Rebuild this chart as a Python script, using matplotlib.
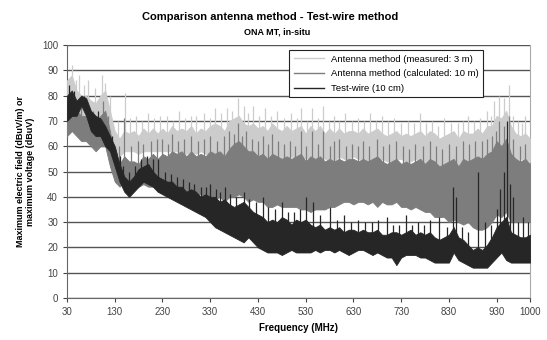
import numpy as np
import matplotlib.pyplot as plt

plt.rcParams["font.family"] = ["Liberation Sans", "DejaVu Sans"]

# frequency grid (MHz): dense part of each trace, read every 10 MHz
freq = np.arange(30, 1001, 10)

# Antenna method (measured: 3 m): top / bottom of dense band, plus spikes
meas_hi = [86, 88, 82, 80, 80, 78, 77, 80, 82, 74,
           66, 63, 66, 65, 66, 64, 67, 65, 67, 65,
           67, 65, 68, 66, 67, 66, 68, 65, 67, 66,
           68, 69, 68, 66, 70, 71, 72, 69, 68, 69,
           67, 68, 66, 69, 67, 66, 68, 66, 67, 68,
           65, 68, 66, 68, 65, 67, 65, 67, 65, 66,
           66, 65, 67, 65, 66, 67, 65, 64, 65, 66,
           64, 65, 64, 65, 66, 64, 66, 65, 63, 64,
           65, 66, 63, 66, 65, 65, 67, 65, 68, 68,
           72, 71, 74, 68, 65, 64, 65, 63]
meas_lo = [72, 75, 72, 70, 70, 68, 68, 70, 72, 62,
           58, 56, 58, 58, 58, 57, 58, 58, 58, 58,
           58, 58, 58, 58, 57, 57, 58, 57, 58, 57,
           57, 56, 57, 55, 56, 56, 57, 56, 55, 56,
           55, 56, 55, 54, 55, 54, 55, 56, 55, 56,
           55, 56, 55, 56, 55, 55, 54, 56, 55, 55,
           56, 55, 55, 54, 55, 54, 55, 54, 54, 55,
           55, 54, 54, 55, 54, 53, 54, 53, 50, 52,
           52, 52, 50, 52, 53, 52, 54, 53, 55, 56,
           58, 57, 58, 56, 55, 55, 55, 54]
meas_spike_f = [40, 48, 55, 66, 75, 88, 103, 110, 120, 137, 152, 163, 175,
                188, 200, 212, 224, 240, 252, 265, 278, 290, 300, 318, 330,
                340, 352, 365, 376, 388, 400, 410, 420, 432, 445, 458, 470,
                485, 500, 511, 520, 532, 543, 555, 566, 578, 590, 600, 612,
                626, 640, 652, 665, 678, 690, 703, 715, 730, 745, 757, 770,
                783, 795, 808, 820, 835, 850, 860, 870, 883, 895, 910, 918,
                925, 935, 945, 955, 965, 975, 983, 990]
meas_spike_v = [92, 86, 88, 84, 86, 83, 88, 85, 80, 70, 81, 71, 72,
                70, 73, 71, 72, 72, 70, 74, 71, 72, 72, 73, 71,
                75, 73, 75, 74, 79, 76, 73, 76, 72, 75, 72, 74,
                71, 73, 71, 75, 70, 75, 71, 76, 70, 72, 70, 73,
                70, 71, 70, 73, 70, 72, 70, 71, 69, 70, 69, 73,
                69, 70, 68, 71, 69, 69, 70, 72, 70, 71, 74, 72,
                78, 80, 79, 84, 72, 70, 69, 72]

# Antenna method (calculated: 10 m)
calc_hi = [76, 78, 74, 72, 72, 71, 69, 72, 74, 66,
           55, 53, 56, 54, 54, 53, 56, 55, 57, 55,
           57, 56, 58, 57, 58, 56, 58, 56, 57, 56,
           58, 57, 58, 56, 59, 61, 62, 60, 58, 58,
           56, 57, 55, 57, 56, 55, 56, 55, 56, 57,
           54, 56, 55, 56, 54, 55, 54, 55, 54, 55,
           55, 54, 55, 54, 55, 56, 54, 53, 54, 55,
           53, 54, 53, 54, 55, 53, 55, 54, 52, 53,
           54, 55, 52, 55, 54, 55, 56, 55, 57, 58,
           62, 60, 63, 57, 55, 54, 55, 53]
calc_lo = [64, 66, 64, 62, 62, 60, 58, 60, 60, 52,
           46, 44, 46, 44, 44, 44, 45, 44, 44, 44,
           44, 44, 44, 43, 43, 42, 42, 41, 41, 40,
           40, 39, 40, 38, 40, 40, 41, 40, 38, 39,
           38, 38, 36, 36, 37, 36, 36, 36, 36, 35,
           35, 34, 35, 35, 35, 36, 36, 37, 38, 38,
           37, 38, 38, 37, 38, 36, 38, 37, 37, 38,
           36, 36, 35, 36, 35, 34, 34, 32, 32, 32,
           30, 31, 30, 29, 30, 28, 27, 27, 28, 30,
           33, 32, 34, 30, 30, 30, 30, 30]
calc_spike_f = [40, 60, 85, 105, 115, 138, 150, 165, 178, 190, 205, 218,
                230, 242, 250, 262, 275, 290, 305, 318, 330, 345, 358, 370,
                380, 388, 397, 405, 418, 430, 440, 452, 460, 472, 485, 498,
                508, 520, 530, 543, 555, 566, 580, 590, 600, 615, 628, 640,
                650, 662, 680, 692, 705, 720, 733, 746, 760, 775, 790, 803,
                815, 830, 845, 860, 873, 885, 900, 910, 920, 928, 935, 945,
                955, 965, 978, 990]
calc_spike_v = [82, 76, 74, 78, 72, 60, 71, 60, 62, 61, 62, 63,
                63, 61, 65, 62, 63, 64, 62, 63, 64, 62, 64, 66,
                65, 69, 64, 66, 63, 62, 64, 61, 65, 62, 61, 62,
                60, 66, 60, 66, 61, 66, 60, 62, 63, 60, 61, 60,
                62, 60, 63, 60, 61, 62, 60, 59, 61, 60, 62, 60,
                59, 61, 60, 62, 61, 62, 62, 63, 64, 66, 70, 68,
                72, 63, 60, 61]

# Test-wire (10 cm)
wire_hi = [80, 82, 78, 80, 79, 74, 72, 71, 68, 64,
           60, 53, 48, 46, 48, 51, 52, 53, 50, 48,
           47, 46, 46, 44, 44, 42, 43, 42, 40, 41,
           40, 40, 38, 39, 37, 36, 37, 38, 36, 34,
           33, 32, 30, 31, 30, 32, 31, 29, 31, 30,
           31, 29, 28, 29, 27, 28, 27, 28, 26, 27,
           27, 26, 27, 26, 26, 27, 25, 25, 26, 26,
           25, 26, 27, 25, 26, 25, 26, 24, 23, 24,
           25, 28, 24, 23, 21, 19, 20, 19, 21, 24,
           28, 30, 32, 26, 25, 24, 24, 25]
wire_lo = [70, 72, 72, 76, 72, 66, 64, 64, 60, 58,
           52, 46, 42, 40, 42, 44, 46, 45, 44, 42,
           41, 40, 39, 38, 37, 36, 35, 34, 33, 32,
           30, 28, 27, 26, 25, 24, 23, 22, 24, 22,
           20, 19, 18, 18, 18, 17, 18, 19, 18, 18,
           18, 18, 19, 18, 19, 19, 18, 19, 18, 17,
           18, 19, 19, 18, 17, 18, 17, 16, 16, 13,
           16, 17, 17, 17, 16, 16, 15, 14, 14, 14,
           14, 18, 15, 14, 13, 12, 12, 12, 12, 14,
           16, 18, 15, 14, 14, 14, 14, 14]
wire_spike_f = [35, 45, 65, 95, 125, 140, 148, 160, 172, 185, 198, 210,
                220, 235, 248, 260, 272, 285, 297, 310, 322, 330, 342, 350,
                360, 372, 385, 400, 412, 425, 440, 452, 465, 480, 492, 505,
                518, 530, 545, 560, 580, 595, 610, 625, 640, 655, 668, 682,
                700, 712, 725, 740, 752, 765, 778, 790, 810, 825, 838, 845,
                858, 870, 891, 905, 918, 930, 938, 945, 952, 958, 965, 975,
                985, 995]
wire_spike_v = [84, 82, 80, 74, 64, 56, 52, 50, 52, 55, 56, 55,
                55, 50, 49, 48, 47, 46, 45, 44, 44, 45, 43, 42,
                44, 41, 40, 42, 39, 38, 40, 36, 35, 38, 34, 34,
                35, 40, 38, 33, 36, 31, 33, 30, 31, 30, 30, 31,
                32, 29, 29, 33, 29, 30, 29, 31, 32, 28, 44, 40,
                28, 26, 50, 30, 29, 35, 43, 50, 70, 45, 40, 30,
                32, 30]

labels = ["Antenna method (measured: 3 m)",
          "Antenna method (calculated: 10 m)",
          "Test-wire (10 cm)"]
colors = ["#cccccc", "#7d7d7d", "#262626"]

fig = plt.figure(figsize=(5.47, 3.4), dpi=100)
ax = fig.add_axes([0.1225, 0.1235, 0.8465, 0.7441])

series = [(meas_hi, meas_lo, meas_spike_f, meas_spike_v),
          (calc_hi, calc_lo, calc_spike_f, calc_spike_v),
          (wire_hi, wire_lo, wire_spike_f, wire_spike_v)]
for (hi, lo, sf, sv), lab, col in zip(series, labels, colors):
    ax.fill_between(freq, lo, hi, color=col, linewidth=0.6, edgecolor=col, zorder=3)
    base = np.interp(sf, freq, hi)
    ax.vlines(sf, base - 2, sv, color=col, linewidth=0.9, zorder=3)
    ax.plot([], [], color=col, linewidth=1.0, label=lab)

ax.set_xlim(30, 1000)
ax.set_ylim(0, 100)
ax.set_xticks([30, 130, 230, 330, 430, 530, 630, 730, 830, 930, 1000])
ax.set_yticks(range(0, 101, 10))
ax.yaxis.grid(True, color="#555555", linewidth=1.0, zorder=1)
ax.set_axisbelow(True)
ax.tick_params(labelsize=7, colors="#444444", length=3, width=0.8)
for s in ["left", "bottom"]:
    ax.spines[s].set_color("#666666")
ax.spines["right"].set_color("#aaaaaa")
ax.spines["top"].set_visible(False)

ax.set_xlabel("Frequency (MHz)", fontsize=7, fontweight="bold", labelpad=4)
ax.set_ylabel("Maximum electric field (dBuV/m) or\nmaximum voltage (dBuV)",
              fontsize=6.5, fontweight="bold", labelpad=5)

fig.text(0.494, 0.95, "Comparison antenna method - Test-wire method",
         ha="center", va="center", fontsize=8, fontweight="bold")
fig.text(0.507, 0.905, "ONA MT, in-situ", ha="center", va="center",
         fontsize=6.5, fontweight="bold")

leg = ax.legend(loc="upper left", bbox_to_anchor=(0.47, 0.997), fontsize=6.8,
                frameon=True, fancybox=False, framealpha=1, edgecolor="#222222",
                handlelength=3.2, borderpad=0.45, labelspacing=0.6)
leg.get_frame().set_linewidth(0.8)

fig.savefig("out.png", dpi=100)
